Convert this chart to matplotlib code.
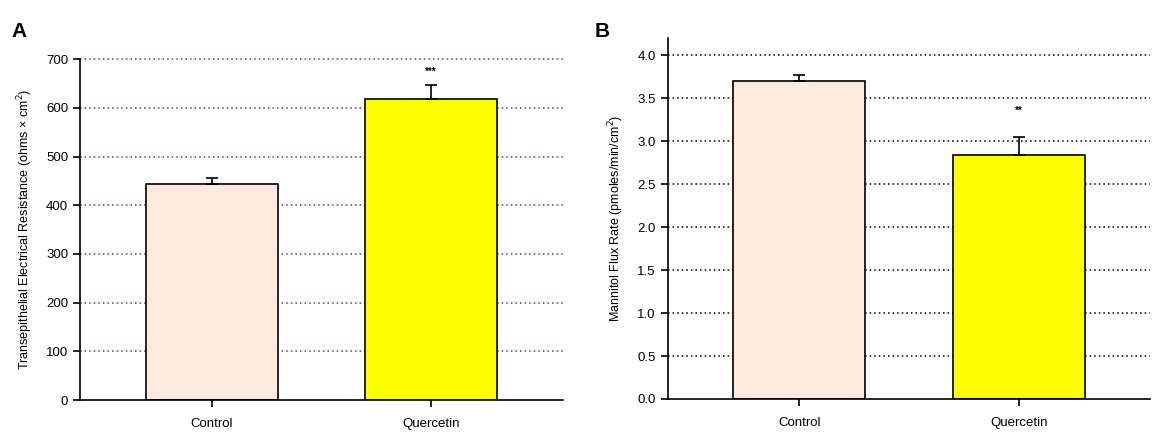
import matplotlib
matplotlib.use("Agg")
import matplotlib.pyplot as plt
import numpy as np

plt.rcParams['font.family'] = ['Liberation Sans', 'DejaVu Sans']

groups = ["Control", "Quercetin"]

# TEER (ohms x cm^2)
teer_mean = [443, 618]
teer_err = [12, 28]

# mannitol flux (pmoles/min/cm^2)
flux_mean = [3.70, 2.84]
flux_err = [0.07, 0.21]

bar_colors = ["#fdeade", "#ffff00"]


def bar_panel(ax, means, errs, ylim, yticks, grid_color, ylabel, stars, star_off):
    x = np.arange(len(means))
    for yt in yticks[1:]:
        ax.axhline(yt, color=grid_color, ls=(0, (1, 2)), lw=1.1, zorder=0,
                   clip_on=False)
    ax.bar(x, means, width=0.6, color=bar_colors, edgecolor="black",
           linewidth=1.2, zorder=2)
    ax.errorbar(x, means, yerr=[np.zeros(len(errs)), errs], fmt="none",
                ecolor="black", elinewidth=1.2, capsize=4, capthick=1.2, zorder=3)
    ax.text(x[1], means[1] + errs[1] + star_off, stars, ha="center", va="center",
            fontsize=7, fontweight="bold")
    ax.set_xlim(-0.6, 1.6)
    ax.set_ylim(*ylim)
    ax.set_yticks(yticks)
    ax.set_xticks(x)
    ax.set_xticklabels(groups)
    ax.set_ylabel(ylabel, fontsize=9, labelpad=8)
    for s in ["top", "right"]:
        ax.spines[s].set_visible(False)
    for s in ["left", "bottom"]:
        ax.spines[s].set_linewidth(1.2)
    ax.tick_params(axis="both", direction="out", length=5, width=1.2, labelsize=9.5)
    ax.tick_params(axis="x", pad=8)


fig = plt.figure(figsize=(11.55, 4.32), dpi=100)

axA = fig.add_axes([0.0693, 0.074, 0.418, 0.789])
bar_panel(axA, teer_mean, teer_err, (0, 700), np.arange(0, 701, 100), "#7a2a8a",
          "Transepithelial Electrical Resistance (ohms \u00d7 cm$^2$)", "***", 28)

axB = fig.add_axes([0.578, 0.0764, 0.418, 0.8356])
bar_panel(axB, flux_mean, flux_err, (0, 4.2), np.arange(0, 4.01, 0.5), "black",
          "Mannitol Flux Rate (pmoles/min/cm$^2$)", "**", 0.30)
axB.set_yticklabels([f"{v:.1f}" for v in np.arange(0, 4.01, 0.5)])

fig.text(0.010, 0.915, "A", fontsize=15, fontweight="bold")
fig.text(0.515, 0.915, "B", fontsize=15, fontweight="bold")

fig.savefig("out.png", dpi=100)
